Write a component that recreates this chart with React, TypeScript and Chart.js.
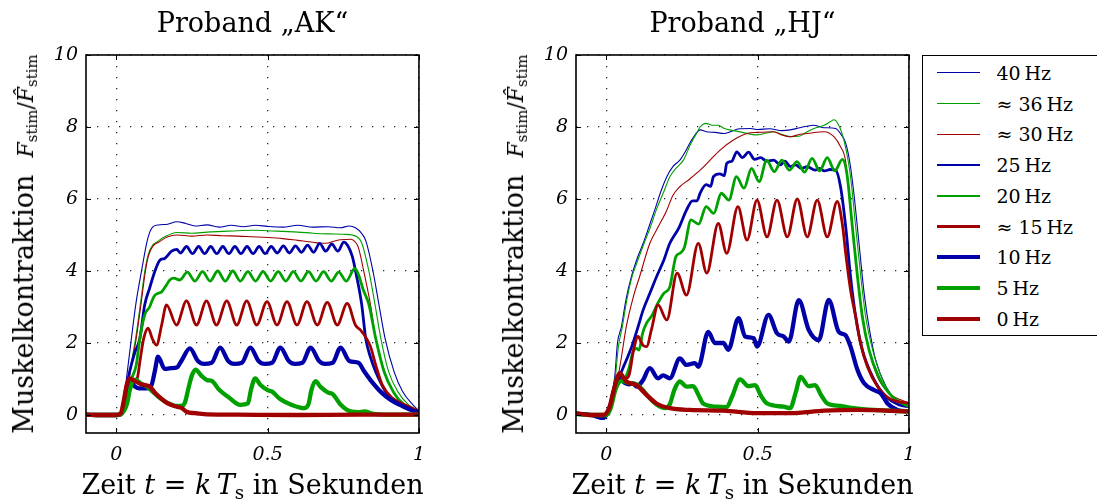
import React, { useEffect, useRef } from 'react';
import { Chart, registerables } from 'chart.js';

Chart.register(...registerables);

// ---------- data ----------
const LABELS = ['40 Hz', '≈ 36 Hz', '≈ 30 Hz', '25 Hz', '20 Hz', '≈ 15 Hz', '10 Hz', '5 Hz', '0 Hz'];
const X_TICKS = [0, 0.5, 1];
const Y_TICKS = [0, 2, 4, 6, 8, 10];
const X_MIN = -0.1, X_MAX = 1;
const Y_MIN = -0.5, Y_MAX = 10;

type P = [number, number][];

// Proband "AK"
const AK_40: P = [[-0.1,0.01],[-0.05,0],[0,0],[0.015,0.03],[0.02,0.1],[0.024,0.28],[0.035,1.1],[0.05,2.13],[0.065,3.1],[0.083,3.98],[0.104,4.9],[0.12,5.22],[0.14,5.28],[0.17,5.3],[0.2,5.37],[0.23,5.32],[0.26,5.25],[0.3,5.28],[0.34,5.22],[0.38,5.27],[0.42,5.23],[0.46,5.27],[0.5,5.24],[0.55,5.22],[0.6,5.27],[0.65,5.22],[0.7,5.23],[0.74,5.2],[0.77,5.25],[0.79,5.2],[0.81,5.05],[0.824,4.85],[0.848,4.0],[0.868,3.06],[0.888,2.13],[0.918,1.2],[0.946,0.65],[0.98,0.28],[1.0,0.12]];
const AK_36: P = [[-0.1,0.01],[-0.05,0],[0,0],[0.015,0.02],[0.022,0.08],[0.028,0.28],[0.044,1.2],[0.064,2.13],[0.08,3.1],[0.094,3.98],[0.105,4.44],[0.12,4.72],[0.133,4.8],[0.16,4.95],[0.2,5.07],[0.25,5.05],[0.3,5.08],[0.35,5.1],[0.4,5.12],[0.45,5.13],[0.5,5.12],[0.55,5.1],[0.6,5.08],[0.65,5.05],[0.7,5.03],[0.75,5.02],[0.78,5.0],[0.795,4.95],[0.81,4.8],[0.835,3.98],[0.855,3.06],[0.874,2.13],[0.9,1.2],[0.93,0.65],[0.966,0.28],[1.0,0.12]];
const AK_30: P = [[-0.1,0.01],[-0.05,0],[0,0],[0.015,0.02],[0.024,0.08],[0.03,0.28],[0.046,1.2],[0.066,2.13],[0.082,3.1],[0.096,3.98],[0.107,4.44],[0.122,4.7],[0.14,4.8],[0.17,4.95],[0.2,5.0],[0.25,4.97],[0.3,5.0],[0.35,4.98],[0.4,4.97],[0.45,4.95],[0.5,4.93],[0.55,4.9],[0.6,4.85],[0.65,4.8],[0.675,4.77],[0.7,4.78],[0.74,4.87],[0.775,4.88],[0.79,4.8],[0.8,4.65],[0.818,3.98],[0.84,3.06],[0.857,2.13],[0.885,1.2],[0.915,0.65],[0.955,0.28],[1.0,0.1]];
const AK_25: P = [[-0.1,0.01],[-0.05,0],[0,0],[0.015,0.02],[0.025,0.3],[0.035,0.8],[0.044,1.2],[0.06,1.7],[0.078,2.13],[0.094,3.06],[0.11,3.52],[0.127,3.98],[0.144,4.3],[0.16,4.35],[0.183,4.55],[0.2,4.6],[0.212,4.5],[0.232,4.68],[0.252,4.48],[0.272,4.68],[0.292,4.48],[0.312,4.68],[0.332,4.48],[0.352,4.68],[0.372,4.48],[0.392,4.68],[0.412,4.48],[0.432,4.68],[0.452,4.48],[0.472,4.68],[0.492,4.48],[0.512,4.68],[0.532,4.5],[0.552,4.7],[0.572,4.5],[0.592,4.7],[0.612,4.52],[0.632,4.72],[0.652,4.52],[0.672,4.77],[0.692,4.55],[0.712,4.75],[0.732,4.55],[0.752,4.8],[0.765,4.7],[0.78,4.4],[0.791,3.98],[0.811,3.06],[0.824,2.13],[0.84,1.6],[0.857,1.2],[0.89,0.65],[0.924,0.37],[0.97,0.18],[1.0,0.1]];
const AK_20: P = [[-0.1,0.01],[-0.05,0],[0,0],[0.015,0.02],[0.025,0.2],[0.035,0.6],[0.05,1.0],[0.066,1.39],[0.078,2.13],[0.094,2.78],[0.11,3.0],[0.125,3.3],[0.138,3.38],[0.15,3.42],[0.165,3.6],[0.177,3.75],[0.19,3.8],[0.21,3.75],[0.235,3.97],[0.26,3.72],[0.285,3.98],[0.31,3.72],[0.335,4.0],[0.36,3.72],[0.385,4.0],[0.41,3.72],[0.435,3.98],[0.46,3.72],[0.485,3.98],[0.51,3.72],[0.535,3.98],[0.56,3.72],[0.585,3.98],[0.61,3.72],[0.635,3.98],[0.66,3.72],[0.685,3.98],[0.71,3.72],[0.735,3.97],[0.76,3.72],[0.788,4.07],[0.8,3.9],[0.815,3.5],[0.835,3.06],[0.857,2.13],[0.885,1.2],[0.915,0.65],[0.95,0.28],[1.0,0.08]];
const AK_15: P = [[-0.1,0.01],[-0.05,0],[0,0],[0.015,0.02],[0.025,0.3],[0.035,0.8],[0.045,1.0],[0.06,0.95],[0.07,1.04],[0.078,1.48],[0.09,2.1],[0.105,2.41],[0.12,2.1],[0.133,1.94],[0.15,2.5],[0.166,3.06],[0.199,2.5],[0.232,3.17],[0.265,2.5],[0.298,3.17],[0.331,2.5],[0.365,3.17],[0.398,2.5],[0.431,3.17],[0.464,2.5],[0.498,3.15],[0.531,2.5],[0.564,3.15],[0.597,2.5],[0.63,3.15],[0.664,2.5],[0.697,3.13],[0.73,2.5],[0.763,3.1],[0.79,2.5],[0.807,2.36],[0.825,2.15],[0.84,1.9],[0.857,1.39],[0.879,0.83],[0.912,0.47],[0.955,0.28],[1.0,0.1]];
const AK_10: P = [[-0.1,0.01],[-0.05,0],[0,0],[0.015,0.02],[0.025,0.3],[0.035,0.8],[0.045,0.95],[0.06,0.8],[0.075,0.74],[0.095,0.74],[0.115,0.8],[0.127,1.2],[0.138,1.62],[0.16,1.28],[0.18,1.3],[0.2,1.32],[0.215,1.5],[0.243,1.85],[0.27,1.5],[0.29,1.42],[0.315,1.45],[0.343,1.87],[0.37,1.5],[0.39,1.42],[0.415,1.45],[0.443,1.87],[0.47,1.5],[0.49,1.42],[0.515,1.45],[0.542,1.87],[0.57,1.5],[0.59,1.42],[0.615,1.45],[0.642,1.87],[0.67,1.5],[0.69,1.42],[0.715,1.45],[0.741,1.87],[0.77,1.5],[0.8,1.45],[0.82,1.2],[0.84,0.97],[0.873,0.65],[0.907,0.42],[0.95,0.23],[0.98,0.12],[1.0,0.08]];
const AK_5: P = [[-0.1,0.01],[-0.05,0],[0,0],[0.015,0.02],[0.035,0.3],[0.045,0.7],[0.055,0.95],[0.065,0.98],[0.08,0.88],[0.1,0.8],[0.12,0.65],[0.14,0.5],[0.16,0.38],[0.18,0.3],[0.2,0.25],[0.215,0.25],[0.227,0.35],[0.24,0.8],[0.25,1.1],[0.262,1.26],[0.28,1.1],[0.3,0.97],[0.315,0.95],[0.34,0.7],[0.37,0.5],[0.41,0.28],[0.435,0.32],[0.445,0.7],[0.459,1.02],[0.475,0.85],[0.5,0.69],[0.515,0.65],[0.54,0.45],[0.58,0.28],[0.62,0.19],[0.635,0.3],[0.645,0.7],[0.658,0.94],[0.675,0.78],[0.7,0.62],[0.715,0.58],[0.74,0.3],[0.774,0.1],[0.8,0.08],[0.82,0.1],[0.85,0.03],[0.9,0.01],[1.0,0.01]];
const AK_0: P = [[-0.1,0.01],[-0.05,0],[0,0],[0.015,0.05],[0.025,0.4],[0.035,0.85],[0.044,1.02],[0.06,0.95],[0.08,0.86],[0.1,0.82],[0.11,0.79],[0.13,0.6],[0.15,0.45],[0.17,0.32],[0.2,0.23],[0.215,0.2],[0.232,0.09],[0.26,0.05],[0.3,0.02],[0.4,0.01],[0.6,0.0],[0.8,0.01],[1.0,0.01]];

// Proband "HJ"
const HJ_40: P = [[-0.1,0.03],[-0.05,0],[0,0],[0.004,0.1],[0.015,0.5],[0.028,1.06],[0.037,2.0],[0.05,2.45],[0.065,3.2],[0.083,3.84],[0.1,4.3],[0.122,4.77],[0.14,5.2],[0.16,5.69],[0.18,6.2],[0.2,6.62],[0.22,6.9],[0.243,7.08],[0.26,7.3],[0.276,7.55],[0.295,7.8],[0.31,7.92],[0.33,7.87],[0.36,7.85],[0.39,7.82],[0.41,7.87],[0.44,7.95],[0.476,7.96],[0.5,7.93],[0.54,7.95],[0.58,7.9],[0.608,7.92],[0.64,7.98],[0.685,8.05],[0.72,7.98],[0.758,7.96],[0.775,7.8],[0.791,7.55],[0.805,7.0],[0.818,6.16],[0.835,4.77],[0.852,3.38],[0.868,2.45],[0.89,1.53],[0.924,0.79],[0.957,0.42],[1.0,0.23]];
const HJ_36: P = [[-0.1,0.03],[-0.05,0],[0,0],[0.006,0.1],[0.018,0.5],[0.03,1.06],[0.04,1.9],[0.053,2.45],[0.068,3.2],[0.085,3.84],[0.1,4.2],[0.125,4.77],[0.145,5.2],[0.165,5.69],[0.19,6.2],[0.21,6.62],[0.23,6.85],[0.255,7.08],[0.28,7.55],[0.3,7.85],[0.31,8.0],[0.33,8.1],[0.35,8.05],[0.37,8.05],[0.39,7.96],[0.42,7.9],[0.45,7.85],[0.498,7.78],[0.553,7.87],[0.58,7.8],[0.608,7.73],[0.64,7.75],[0.66,7.85],[0.686,7.96],[0.72,8.05],[0.741,8.15],[0.752,8.2],[0.765,8.1],[0.785,7.64],[0.807,6.62],[0.824,5.23],[0.841,3.84],[0.857,2.73],[0.88,1.81],[0.913,0.97],[0.946,0.5],[0.99,0.28],[1.0,0.25]];
const HJ_30: P = [[-0.1,0.03],[-0.05,0],[0,0],[0.01,0.1],[0.025,0.5],[0.039,1.06],[0.05,1.6],[0.066,2.45],[0.09,3.3],[0.11,3.84],[0.144,4.77],[0.17,5.2],[0.2,5.69],[0.22,6.1],[0.243,6.34],[0.275,6.55],[0.31,6.8],[0.343,7.08],[0.376,7.36],[0.42,7.64],[0.465,7.82],[0.5,7.85],[0.553,7.87],[0.58,7.78],[0.608,7.73],[0.64,7.8],[0.664,7.82],[0.72,7.87],[0.752,7.73],[0.774,7.45],[0.79,7.08],[0.807,5.69],[0.824,4.3],[0.841,3.1],[0.863,1.99],[0.896,1.06],[0.935,0.6],[0.99,0.37],[1.0,0.35]];
const HJ_25: P = [[-0.1,0.03],[-0.05,0],[-0.01,-0.1],[0,0],[0.01,0.2],[0.025,0.7],[0.04,1.0],[0.055,1.3],[0.07,1.6],[0.088,1.99],[0.105,2.45],[0.122,2.92],[0.145,3.4],[0.166,3.84],[0.19,4.3],[0.21,4.77],[0.24,5.2],[0.265,5.69],[0.285,5.95],[0.3,5.95],[0.31,6.16],[0.33,6.4],[0.345,6.35],[0.354,6.62],[0.375,6.7],[0.39,6.65],[0.398,6.99],[0.415,7.05],[0.431,7.31],[0.45,7.15],[0.47,7.3],[0.49,7.1],[0.51,7.15],[0.53,7.05],[0.553,7.08],[0.575,6.95],[0.59,7.05],[0.608,6.9],[0.625,6.95],[0.645,6.85],[0.664,6.9],[0.69,6.8],[0.705,6.85],[0.72,6.78],[0.74,6.82],[0.758,6.8],[0.774,6.34],[0.791,5.23],[0.807,3.84],[0.824,2.73],[0.846,1.81],[0.88,1.06],[0.924,0.51],[0.968,0.28],[1.0,0.23]];
const HJ_20: P = [[-0.1,0.03],[-0.05,0],[0,0],[0.015,0.2],[0.03,0.7],[0.045,0.95],[0.06,1.0],[0.075,1.3],[0.088,1.75],[0.1,1.85],[0.108,1.8],[0.12,2.27],[0.133,2.55],[0.15,2.75],[0.17,3.1],[0.19,3.38],[0.21,3.56],[0.23,4.4],[0.245,4.5],[0.258,4.65],[0.28,5.42],[0.305,5.3],[0.33,5.79],[0.355,5.6],[0.38,6.16],[0.405,5.97],[0.43,6.62],[0.455,6.3],[0.48,6.85],[0.505,6.48],[0.53,7.08],[0.555,6.76],[0.58,7.08],[0.605,6.8],[0.63,7.04],[0.655,6.75],[0.68,7.13],[0.705,6.78],[0.73,7.15],[0.755,6.78],[0.78,7.1],[0.795,6.7],[0.813,5.23],[0.83,3.84],[0.846,2.73],[0.868,1.81],[0.9,1.06],[0.946,0.5],[1.0,0.23]];
const HJ_15: P = [[-0.1,0.03],[-0.05,0],[0,0],[0.015,0.3],[0.03,0.9],[0.045,1.15],[0.06,1.0],[0.075,1.1],[0.09,1.8],[0.105,2.18],[0.12,1.95],[0.133,1.9],[0.15,2.4],[0.171,3.06],[0.2,2.64],[0.234,3.94],[0.265,3.33],[0.304,4.77],[0.332,3.94],[0.37,5.32],[0.398,4.49],[0.435,5.79],[0.465,4.86],[0.498,5.97],[0.531,4.95],[0.564,5.97],[0.598,4.95],[0.631,6.0],[0.664,4.95],[0.697,5.97],[0.73,4.95],[0.763,5.93],[0.78,5.3],[0.791,4.49],[0.807,3.47],[0.824,2.73],[0.84,1.99],[0.863,1.34],[0.896,0.79],[0.935,0.46],[1.0,0.32]];
const HJ_10: P = [[-0.1,0.03],[-0.05,0],[-0.01,-0.08],[0,0],[0.015,0.3],[0.03,0.8],[0.045,1.0],[0.06,0.9],[0.075,0.85],[0.088,0.88],[0.1,0.79],[0.12,0.95],[0.144,1.3],[0.171,1.02],[0.188,1.1],[0.21,1.02],[0.243,1.57],[0.265,1.39],[0.293,1.44],[0.304,1.34],[0.337,2.31],[0.359,2.0],[0.387,2.0],[0.403,1.81],[0.437,2.69],[0.459,2.18],[0.487,2.13],[0.498,1.9],[0.536,2.78],[0.564,2.27],[0.586,2.18],[0.603,2.04],[0.636,3.19],[0.669,2.36],[0.702,2.08],[0.735,3.2],[0.768,2.31],[0.79,2.22],[0.807,1.9],[0.83,1.25],[0.852,0.88],[0.885,0.69],[0.907,0.6],[0.929,0.32],[0.962,0.14],[1.0,0.1]];
const HJ_5: P = [[-0.1,0.03],[-0.05,0],[0,0],[0.015,0.2],[0.03,0.7],[0.05,0.95],[0.07,0.9],[0.1,0.85],[0.12,0.7],[0.14,0.5],[0.165,0.3],[0.194,0.19],[0.21,0.3],[0.225,0.7],[0.243,0.93],[0.265,0.79],[0.287,0.8],[0.305,0.55],[0.32,0.32],[0.365,0.23],[0.398,0.22],[0.415,0.5],[0.442,0.99],[0.47,0.8],[0.492,0.83],[0.51,0.55],[0.531,0.32],[0.586,0.23],[0.608,0.19],[0.625,0.6],[0.642,1.06],[0.669,0.8],[0.69,0.83],[0.71,0.55],[0.73,0.32],[0.774,0.25],[0.818,0.19],[0.885,0.14],[1.0,0.1]];
const HJ_0: P = [[-0.1,0.05],[-0.055,0],[-0.01,0],[0.01,0.2],[0.022,0.6],[0.035,1.0],[0.044,1.16],[0.066,0.93],[0.1,0.83],[0.133,0.56],[0.166,0.32],[0.21,0.19],[0.276,0.14],[0.387,0.12],[0.498,0.05],[0.608,0.05],[0.72,0.12],[0.83,0.14],[1.0,0.1]];

const AK_SERIES = [AK_40, AK_36, AK_30, AK_25, AK_20, AK_15, AK_10, AK_5, AK_0];
const HJ_SERIES = [HJ_40, HJ_36, HJ_30, HJ_25, HJ_20, HJ_15, HJ_10, HJ_5, HJ_0];

// ---------- styles ----------
const BLUE = '#0000a8';
const GREEN = '#00a000';
const RED = '#a00000';
const COLORS = [BLUE, GREEN, RED, BLUE, GREEN, RED, BLUE, GREEN, RED];
const WIDTHS = [1.1, 1.1, 1.1, 2.8, 2.8, 2.8, 4.3, 4.3, 4.3];
const LEGEND_WIDTHS = [1, 1, 1, 2.6, 2.6, 2.6, 4, 4, 4];
const SERIF = '"DejaVu Serif", serif';

const framePlugin = {
  id: 'frame',
  afterDraw(chart: any) {
    const { ctx, chartArea: a, scales } = chart;
    ctx.save();
    ctx.strokeStyle = '#000';
    ctx.lineWidth = 1;
    ctx.setLineDash([]);
    const line = (x1: number, y1: number, x2: number, y2: number) => {
      ctx.beginPath(); ctx.moveTo(x1, y1); ctx.lineTo(x2, y2); ctx.stroke();
    };
    for (const v of X_TICKS) {
      const px = Math.round(scales.x.getPixelForValue(v)) + 0.5;
      line(px, a.bottom, px, a.bottom - 5);
      line(px, a.top, px, a.top + 5);
    }
    for (const v of Y_TICKS) {
      const py = Math.round(scales.y.getPixelForValue(v)) + 0.5;
      line(a.left, py, a.left + 5, py);
      line(a.right, py, a.right - 5, py);
    }
    ctx.lineWidth = 1.6;
    ctx.strokeRect(a.left, a.top, a.right - a.left, a.bottom - a.top);
    ctx.restore();
  },
};

const CANVAS_W = 436;

function Plot({ title, series, left }: { title: string; series: P[]; left: number }) {
  const ref = useRef<HTMLCanvasElement>(null);
  useEffect(() => {
    if (!ref.current) return;
    const datasets = series.map((s, i) => ({
      label: LABELS[i],
      data: s.map(([x, y]) => ({ x, y })),
      borderColor: COLORS[i],
      backgroundColor: COLORS[i],
      borderWidth: WIDTHS[i],
      pointRadius: 0,
      fill: false,
      cubicInterpolationMode: 'monotone' as const,
      order: series.length - 1 - i,
    }));
    const tickFont = { family: SERIF, size: 19, style: 'italic' as const, weight: 'normal' as const };
    const chart = new Chart(ref.current, {
      type: 'line',
      data: { datasets },
      options: {
        animation: false,
        responsive: false,
        devicePixelRatio: 1,
        parsing: false as any,
        layout: { padding: { top: 0, right: 5, bottom: 0, left: 0 } },
        plugins: {
          legend: { display: false },
          tooltip: { enabled: false },
          title: {
            display: true,
            text: title,
            color: '#000',
            font: { family: SERIF, size: 27, weight: 'normal' },
            padding: { top: 9, bottom: 13.6 },
            fullSize: false,
          },
        },
        scales: {
          x: {
            type: 'linear',
            min: X_MIN,
            max: X_MAX,
            afterBuildTicks: (s: any) => { s.ticks = X_TICKS.map((value) => ({ value })); },
            afterFit: (s: any) => { s.height = 68; },
            ticks: { color: '#000', font: tickFont, padding: 11, maxRotation: 0, autoSkip: false, callback: (v: any) => String(v) },
            grid: { color: 'rgba(0,0,0,0.85)', lineWidth: 1.3, drawTicks: false },
            border: { display: false, dash: [1.3, 9.7] },
          },
          y: {
            type: 'linear',
            min: Y_MIN,
            max: Y_MAX,
            afterBuildTicks: (s: any) => { s.ticks = Y_TICKS.map((value) => ({ value })); },
            afterFit: (s: any) => { s.width = 86; },
            ticks: { color: '#000', font: tickFont, padding: 8, autoSkip: false, callback: (v: any) => String(v) },
            grid: { color: 'rgba(0,0,0,0.85)', lineWidth: 1.3, drawTicks: false },
            border: { display: false, dash: [1.3, 9.7] },
          },
        },
      },
      plugins: [framePlugin],
    } as any);
    return () => chart.destroy();
  }, [title, series]);
  return (
    <canvas
      ref={ref}
      width={CANVAS_W}
      height={501}
      style={{ position: 'absolute', left, top: 0, width: CANVAS_W, height: 501 }}
    />
  );
}

const subStyle: React.CSSProperties = { fontSize: '0.68em', verticalAlign: '-0.28em', lineHeight: 0 };

function YLabel({ cx }: { cx: number }) {
  return (
    <div
      style={{
        position: 'absolute', left: cx, top: 244,
        transform: 'translate(-50%, -50%) rotate(-90deg)',
        whiteSpace: 'nowrap', fontFamily: SERIF, fontSize: 27, lineHeight: '30px', color: '#000',
      }}
    >
      Muskelkontraktion
      <span style={{ fontSize: 22, marginLeft: 17 }}>
        <i>F</i><span style={subStyle}>stim</span>/<i>F&#770;</i><span style={subStyle}>stim</span>
      </span>
    </div>
  );
}

function XLabel({ cx }: { cx: number }) {
  return (
    <div
      style={{
        position: 'absolute', left: cx, top: 470,
        transform: 'translateX(-50%)',
        whiteSpace: 'nowrap', fontFamily: SERIF, fontSize: 27, lineHeight: '30px', color: '#000',
      }}
    >
      Zeit <i>t</i> = <i>k</i>{'\u2009'}<i>T</i><span style={subStyle}>s</span> in Sekunden
    </div>
  );
}

function Legend() {
  const top = 55, left = 922;
  const rowH = 30.75, firstRow = 18.3;
  return (
    <div
      style={{
        position: 'absolute', left, top, width: 200, height: 281,
        border: '1.5px solid #000', boxSizing: 'border-box', background: '#fff',
      }}
    >
      {LABELS.map((lab, i) => {
        const cy = firstRow + i * rowH;
        return (
          <React.Fragment key={lab}>
            <div
              style={{
                position: 'absolute', left: 13.5, top: cy - LEGEND_WIDTHS[i] / 2 - 1.5, width: 43,
                height: LEGEND_WIDTHS[i], background: COLORS[i],
              }}
            />
            <div
              style={{
                position: 'absolute', left: 73.5, top: cy - 12 - 1.5, height: 24, lineHeight: '24px',
                fontFamily: SERIF, fontSize: 19, whiteSpace: 'nowrap', color: '#000',
              }}
            >
              {lab.replace(' Hz', '\u2009Hz')}
            </div>
          </React.Fragment>
        );
      })}
    </div>
  );
}

export default function App() {
  return (
    <div
      style={{
        position: 'absolute', left: 0, top: 0, width: 1097, height: 501,
        overflow: 'hidden', background: '#fff',
      }}
    >
      <Plot title={'Proband \u201EAK\u201C'} series={AK_SERIES} left={0} />
      <Plot title={'Proband \u201EHJ\u201C'} series={HJ_SERIES} left={490} />
      <YLabel cx={25} />
      <YLabel cx={515} />
      <XLabel cx={252.5} />
      <XLabel cx={742.5} />
      <Legend />
    </div>
  );
}
